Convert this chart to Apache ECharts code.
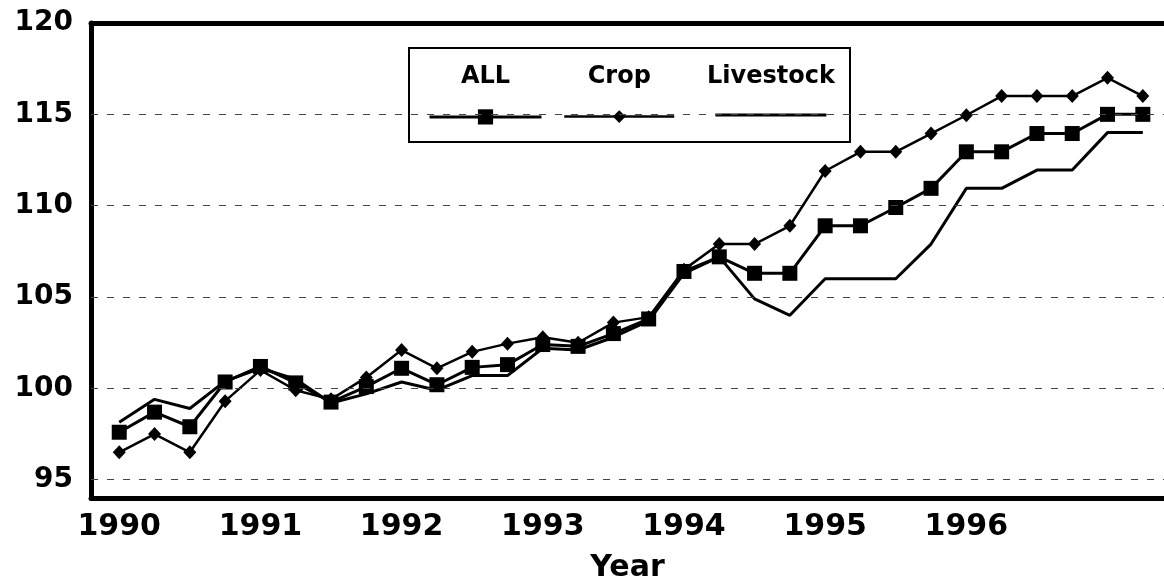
<!DOCTYPE html>
<html>
<head>
    <meta charset="utf-8" />
    <script src="https://cdn.jsdelivr.net/npm/echarts@6/dist/echarts.min.js"></script>
    <style>
        html, body { margin: 0; padding: 0; background: #fff; }
        #main { width: 1164px; height: 583px; }
    </style>
</head>
<body>
    <div id="main"></div>
    <script>
        // quarters, 1990 Q1 .. 1997 Q2
        var periods = [1990, 1990.25, 1990.5, 1990.75, 1991, 1991.25, 1991.5, 1991.75,
            1992, 1992.25, 1992.5, 1992.75, 1993, 1993.25, 1993.5, 1993.75,
            1994, 1994.25, 1994.5, 1994.75, 1995, 1995.25, 1995.5, 1995.75,
            1996, 1996.25, 1996.5, 1996.75, 1997, 1997.25]
        var allIdx = [97.6, 98.7, 97.9, 100.35, 101.2, 100.3, 99.25, 100.1, 101.1, 100.2, 101.15, 101.3,
            102.4, 102.3, 103.0, 103.8, 106.4, 107.2, 106.3, 106.3, 108.9, 108.9, 109.9, 110.95,
            112.95, 112.95, 113.95, 113.95, 115.0, 115.0]
        var cropIdx = [96.5, 97.5, 96.5, 99.3, 101.0, 99.9, 99.4, 100.6, 102.1, 101.1, 102.0, 102.45,
            102.8, 102.5, 103.6, 103.9, 106.5, 107.9, 107.9, 108.9, 111.9, 112.95, 112.95, 113.95,
            114.95, 116.0, 116.0, 116.0, 117.0, 116.0]
        var livestockIdx = [98.15, 99.4, 98.9, 100.4, 101.1, 100.5, 99.2, 99.7, 100.35, 99.9, 100.7, 100.7,
            102.2, 102.1, 102.8, 103.7, 106.3, 107.2, 104.9, 104.0, 106.0, 106.0, 106.0, 107.9,
            110.95, 110.95, 111.95, 111.95, 114.0, 114.0]
        var yearTicks = [1990, 1991, 1992, 1993, 1994, 1995, 1996]
        var valueTicks = [95, 100, 105, 110, 115, 120]
        var gridValues = [95, 100, 105, 110, 115]

        function pairs(vals) {
            return periods.map(function (p, i) { return [p, vals[i]] })
        }

        // legend text sits above the line sample, centred on it
        function legendText(w, lift) {
            return {
                fontFamily: 'DejaVu Sans',
                fontWeight: 'bold',
                fontSize: 24,
                color: '#000',
                padding: [0, 0, lift, -(w + 5)],
                rich: { t: { width: w, align: 'center', fontFamily: 'DejaVu Sans', fontWeight: 'bold', fontSize: 24, color: '#000' } }
            }
        }

        var option = {
            animation: false,
            backgroundColor: '#fff',
            grid: { left: 91, right: 0, top: 23, bottom: 85, outerBoundsMode: 'none' },
            graphic: [{
                type: 'rect', z: 3,
                shape: { x: 409, y: 48, width: 441, height: 94 },
                style: { fill: '#fff', stroke: '#000', lineWidth: 2 }
            }],
            legend: [{
                data: ['ALL'], left: 428, bottom: 583 - 115 - 9.5,
                padding: 0, itemWidth: 112, itemHeight: 19,
                lineStyle: { width: 3, type: 'solid', color: '#000' },
                formatter: '{t|{name}}', textStyle: legendText(112, 80), selectedMode: false
            }, {
                data: ['Crop'], left: 563, bottom: 583 - 115 - 8,
                padding: 0, itemWidth: 110, itemHeight: 16,
                lineStyle: { width: 2.5, type: 'solid', color: '#000' },
                formatter: '{t|{name}}', textStyle: legendText(110, 80), selectedMode: false
            }, {
                data: [{ name: 'Livestock', icon: 'rect' }], left: 707, bottom: 583 - 115 - 1.5,
                padding: 0, itemWidth: 111, itemHeight: 3,
                formatter: '{t|{name}}', textStyle: legendText(111, 76), selectedMode: false
            }],
            xAxis: [{
                type: 'value',
                min: 1989.8, max: 1997.4,
                splitLine: { show: false },
                axisTick: { show: false },
                axisLine: { lineStyle: { color: '#000', width: 5 } },
                axisLabel: {
                    customValues: yearTicks,
                    formatter: function (v) { return String(v) },
                    color: '#000', fontFamily: 'DejaVu Sans', fontWeight: 'bold', fontSize: 30, margin: 14
                },
                name: 'Year', nameLocation: 'middle', nameGap: 55,
                nameTextStyle: { color: '#000', fontFamily: 'DejaVu Sans', fontWeight: 'bold', fontSize: 30 }
            }, {
                // top frame line
                type: 'value', position: 'top',
                min: 1989.8, max: 1997.4,
                splitLine: { show: false },
                axisTick: { show: false },
                axisLabel: { show: false },
                axisLine: { lineStyle: { color: '#000', width: 5 } }
            }],
            yAxis: {
                type: 'value',
                min: 94, max: 120,
                splitLine: { show: false },
                axisTick: { show: false },
                axisLine: { show: true, lineStyle: { color: '#000', width: 5 } },
                axisLabel: {
                    customValues: valueTicks,
                    color: '#000', fontFamily: 'DejaVu Sans', fontWeight: 'bold', fontSize: 28, margin: 18
                }
            },
            series: [{
                name: 'Livestock', type: 'line',
                data: pairs(livestockIdx),
                symbol: 'none',
                lineStyle: { color: '#000', width: 3 },
                itemStyle: { color: '#000' },
                markLine: {
                    silent: true, symbol: ['none', 'none'],
                    label: { show: false },
                    lineStyle: { color: '#444', width: 1, type: [7, 9] },
                    data: gridValues.map(function (v) { return { yAxis: v } })
                }
            }, {
                name: 'Crop', type: 'line',
                data: pairs(cropIdx),
                symbol: 'diamond', symbolSize: [13, 14],
                lineStyle: { color: '#000', width: 2.5 },
                itemStyle: { color: '#000' }
            }, {
                name: 'ALL', type: 'line',
                data: pairs(allIdx),
                symbol: 'rect', symbolSize: 15,
                lineStyle: { color: '#000', width: 3 },
                itemStyle: { color: '#000' }
            }]
        }

        var chart = echarts.init(document.getElementById('main'))
        chart.setOption(option)
        window.addEventListener('resize', function () { chart.resize() })
    </script>
</body>
</html>
